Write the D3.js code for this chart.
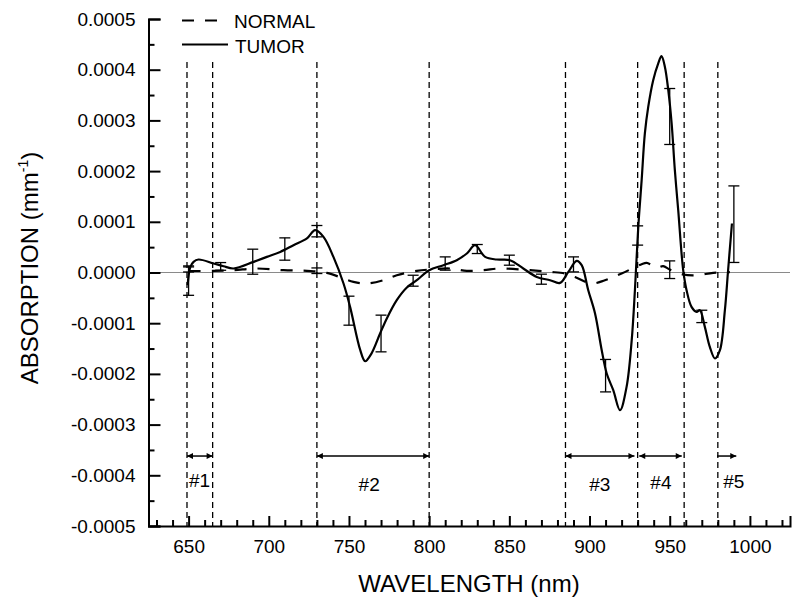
<!DOCTYPE html>
<html>
<head>
<meta charset="utf-8">
<script src="https://cdn.jsdelivr.net/npm/d3@7"></script>
<style>
  html, body { margin: 0; padding: 0; background: #fff; }
  svg { display: block; }
  text { font-family: "Liberation Sans", Arial, sans-serif; fill: #000; }
</style>
</head>
<body>
<svg id="chart" width="800" height="601"></svg>
<script>
// ---- data (absorption values in units of 1e-4 mm^-1) ----
const UNIT = 1e-4;
const tumorWl = [649.4,651.1,653.1,656.2,665.6,671.8,678.0,690.5,698.8,707.1,715.4,723.8,728.9,734.1,740.3,746.6,750.7,757.0,760.1,764,769.4,773.6,779.8,786.1,792.3,800.0,808.9,817.2,823.5,828.6,834.9,842.1,850.4,858.7,867.1,875.4,881.6,886.8,892.0,895.1,899.2,903.4,907.6,910.7,914.8,919.0,923.1,926.3,928.3,930.4,932.5,934.5,936.6,939.7,942.8,944.9,947.0,949.1,951.2,953.2,955.3,958.4,960.5,963.6,966.8,968.8,971.9,975.0,978.2,981.3,984.4,986.4,988.8];
const tumorVal = [-0.25,0.11,0.21,0.256,0.178,0.124,0.079,0.209,0.308,0.406,0.538,0.671,0.834,0.702,0.308,-0.217,-0.678,-1.527,-1.75,-1.6,-1.203,-0.907,-0.546,-0.296,-0.152,0.045,0.144,0.243,0.375,0.538,0.308,0.256,0.243,0.079,-0.087,-0.152,-0.205,0.012,0.229,0.144,-0.349,-0.803,-1.533,-1.992,-2.321,-2.716,-2.256,-1.335,-0.349,0.899,1.821,2.742,3.266,3.793,4.122,4.266,4.055,3.596,2.939,2.018,1.229,0.045,-0.349,-0.678,-0.777,-0.744,-1.073,-1.467,-1.696,-1.533,-0.744,0.045,0.966];

const normalWl = [650,665.6,678.0,692.6,709.2,723.8,736.2,752.8,761.2,771.5,779.8,792.3,800.6,813.1,823.5,833.8,844.2,862.9,875.4,884.7,890.9,901.3,909.6,920.0,932.5,935.6,938.9,942.4,945.9,950,958.4,966.8,977.1,987.5];
const normalVal = [0.03,0.032,0.045,0.079,0.045,0.032,-0.008,-0.185,-0.217,-0.152,-0.053,0.032,0.059,0.079,0.032,0.045,0.079,0.045,0.012,-0.020,-0.087,-0.217,-0.152,-0.020,0.164,0.189,0.144,0.099,0.124,0.06,-0.039,-0.053,-0.008,0.006];

// error bars: wavelength, centre, half-length
const tumorErrWl  = [650,670,690,710,730,750,770,790,810,830,850,870,890,910,930,950,970,990];
const tumorErrMid = [-0.17,0.12,0.213,0.463,0.815,-0.753,-1.203,-0.162,0.177,0.463,0.243,-0.132,0.16,-2.035,0.73,3.077,-0.866,0.953];
const tumorErrHalf= [0.28,0.076,0.247,0.22,0.112,0.286,0.362,0.108,0.131,0.089,0.099,0.099,0.148,0.32,0.19,0.552,0.122,0.755];
const normalErrWl  = [650,730,950];
const normalErrMid = [0.07,0.035,0.055];
const normalErrHalf= [0.06,0.055,0.174];

// band boundaries and labels
const bandLines = [649,665,730,800,885,930,959,980];
const bandFrom  = [649,730,885,931,979.5];
const bandTo    = [665,800,928,957.5,991.5];
const bandTwoHeaded = [true,true,true,true,false];
const bandLabel = ["#1","#2","#3","#4","#5"];
const bandLabelWl = [656.8,762.6,906.4,944.5,990];
const bandLabelVal = [-4.235,-4.314,-4.314,-4.274,-4.255];

const yTickVals = [-5,-4,-3,-2,-1,0,1,2,3,4,5];
const xTickVals = [650,700,750,800,850,900,950,1000];

// ---- chart ----
const svg = d3.select("#chart");
const x = d3.scaleLinear().domain([625, 1025]).range([148.5, 790]);
const y = d3.scaleLinear().domain([-0.0005, 0.0005]).range([526, 19]);
const loc = d3.formatLocale({decimal: ".", thousands: ",", grouping: [3], currency: ["", ""], minus: "-"});
const fmt = loc.format(".4f");

// zero line
svg.append("line")
  .attr("x1", x(625)).attr("x2", x(1025))
  .attr("y1", y(0)).attr("y2", y(0))
  .attr("stroke", "#8a8a8a").attr("stroke-width", 1);

// vertical band lines
svg.append("g").selectAll("line").data(bandLines).join("line")
  .attr("x1", d => x(d)).attr("x2", d => x(d))
  .attr("y1", y(4.15 * UNIT)).attr("y2", y(-0.0005))
  .attr("stroke", "#000").attr("stroke-width", 1.3)
  .attr("stroke-dasharray", "6,4");

// arrow markers
const defs = svg.append("defs");
defs.append("marker").attr("id", "ah").attr("viewBox", "0 0 10 10")
  .attr("refX", 10).attr("refY", 5).attr("markerWidth", 7).attr("markerHeight", 6)
  .attr("markerUnits", "userSpaceOnUse").attr("orient", "auto-start-reverse")
  .append("path").attr("d", "M0,0 L10,5 L0,10 Z").attr("fill", "#000");

const arrowY = y(-3.62 * UNIT);
bandFrom.forEach((f, i) => {
  svg.append("line")
    .attr("x1", x(f)).attr("x2", x(bandTo[i]))
    .attr("y1", arrowY).attr("y2", arrowY)
    .attr("stroke", "#000").attr("stroke-width", 1.5)
    .attr("marker-end", "url(#ah)")
    .attr("marker-start", bandTwoHeaded[i] ? "url(#ah)" : null);
  svg.append("text")
    .attr("x", x(bandLabelWl[i])).attr("y", y(bandLabelVal[i] * UNIT))
    .attr("text-anchor", "middle").attr("font-size", 19)
    .text(bandLabel[i]);
});

// error bars
function errBars(wl, mid, half) {
  const g = svg.append("g").attr("stroke", "#000").attr("stroke-width", 1.3).attr("fill", "none");
  wl.forEach((w, i) => {
    const top = y((mid[i] + half[i]) * UNIT), bot = y((mid[i] - half[i]) * UNIT), cx = x(w);
    g.append("line").attr("x1", cx).attr("x2", cx).attr("y1", top).attr("y2", bot);
    g.append("line").attr("x1", cx - 5.5).attr("x2", cx + 5.5).attr("y1", top).attr("y2", top);
    g.append("line").attr("x1", cx - 5.5).attr("x2", cx + 5.5).attr("y1", bot).attr("y2", bot);
  });
}
errBars(normalErrWl, normalErrMid, normalErrHalf);
errBars(tumorErrWl, tumorErrMid, tumorErrHalf);

// curves
const line = d3.line().x(d => x(d[0])).y(d => y(d[1] * UNIT)).curve(d3.curveCatmullRom.alpha(0.5));
svg.append("path").datum(normalWl.map((w, i) => [w, normalVal[i]]))
  .attr("d", line).attr("fill", "none").attr("stroke", "#000")
  .attr("stroke-width", 2.2).attr("stroke-dasharray", "12,11");
svg.append("path").datum(tumorWl.map((w, i) => [w, tumorVal[i]]))
  .attr("d", line).attr("fill", "none").attr("stroke", "#000")
  .attr("stroke-width", 2.2).attr("stroke-linejoin", "round");

// axes
const yAxis = d3.axisLeft(y).tickValues(yTickVals.map(v => v * UNIT)).tickFormat(fmt).tickSize(-12).tickPadding(13);
const gy = svg.append("g").attr("transform", `translate(${x(625)},0)`).call(yAxis);
gy.select(".domain").attr("stroke-width", 2);
gy.selectAll(".tick line").attr("stroke-width", 2);
gy.selectAll("text").attr("font-size", 19).attr("font-family", "'Liberation Sans', Arial, sans-serif");
const yMinor = d3.range(-4.5, 5, 1).map(v => v * UNIT);
const gym = svg.append("g").attr("transform", `translate(${x(625)},0)`)
  .call(d3.axisLeft(y).tickValues(yMinor).tickFormat("").tickSize(-6));
gym.select(".domain").remove();
gym.selectAll(".tick line").attr("stroke-width", 2);

const xAxis = d3.axisBottom(x).tickValues(xTickVals).tickFormat(d3.format("d")).tickSize(-10).tickPadding(14);
const gx = svg.append("g").attr("transform", `translate(0,${y(-0.0005)})`).call(xAxis);
gx.select(".domain").attr("stroke-width", 2);
gx.selectAll(".tick line").attr("stroke-width", 2);
gx.selectAll("text").attr("font-size", 19).attr("font-family", "'Liberation Sans', Arial, sans-serif");
const xMinor = d3.range(630, 1025, 10).filter(v => v % 50 !== 0);
const gxm = svg.append("g").attr("transform", `translate(0,${y(-0.0005)})`)
  .call(d3.axisBottom(x).tickValues(xMinor).tickFormat("").tickSize(-6));
gxm.select(".domain").remove();
gxm.selectAll(".tick line").attr("stroke-width", 2);

// axis titles
svg.append("text").attr("x", 469).attr("y", 592).attr("text-anchor", "middle")
  .attr("font-size", 24).text("WAVELENGTH (nm)");
const yt = svg.append("text").attr("transform", "translate(38,268) rotate(-90)")
  .attr("text-anchor", "middle").attr("font-size", 24);
yt.append("tspan").text("ABSORPTION (mm");
yt.append("tspan").attr("font-size", 14).attr("dy", -10).text("-1");
yt.append("tspan").attr("dy", 10).text(")");

// legend
svg.append("line").attr("x1", 182).attr("x2", 228).attr("y1", 20.5).attr("y2", 20.5)
  .attr("stroke", "#000").attr("stroke-width", 2.2).attr("stroke-dasharray", "12,11");
svg.append("text").attr("x", 234).attr("y", 27.5).attr("font-size", 19).text("NORMAL");
svg.append("line").attr("x1", 182).attr("x2", 228).attr("y1", 44.5).attr("y2", 44.5)
  .attr("stroke", "#000").attr("stroke-width", 2.2);
svg.append("text").attr("x", 235).attr("y", 52.5).attr("font-size", 19).text("TUMOR");
</script>
</body>
</html>
